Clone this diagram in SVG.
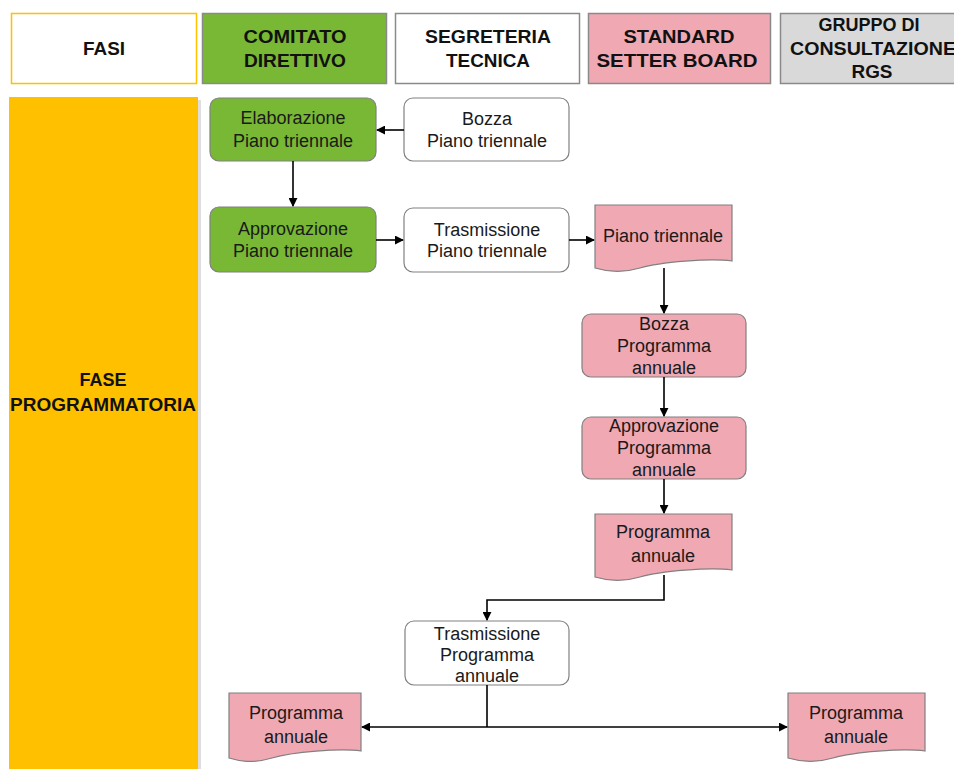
<svg xmlns="http://www.w3.org/2000/svg" width="954" height="769" viewBox="0 0 954 769">
<defs>
<style>
.hd{font-family:"Liberation Sans",Arial,sans-serif;font-weight:bold;font-size:18px;fill:#111;text-anchor:middle}
.tx{font-family:"Liberation Sans",Arial,sans-serif;font-size:18px;fill:#1a1a1a;text-anchor:middle}
.nd{stroke:#808080;stroke-width:1.2}
.g{fill:#78B834}
.w{fill:#fff}
.p{fill:#F0A8B3}
.ln{fill:none;stroke:#000;stroke-width:1.6}
</style>
<marker id="ah" viewBox="0 0 10 10" refX="9" refY="5" markerWidth="9" markerHeight="9" markerUnits="userSpaceOnUse" orient="auto">
<path d="M0,0 L10,5 L0,10 Z" fill="#000"/>
</marker>
</defs>
<rect width="954" height="769" fill="#fff"/>

<g id="header-fasi">
<rect x="11.5" y="13.5" width="185" height="70" fill="#fff" stroke="#FFC000" stroke-width="1.5"/>
<text class="hd" x="104" y="55" textLength="42" lengthAdjust="spacingAndGlyphs">FASI</text>
</g>
<g id="header-comitato">
<rect x="202.5" y="13.5" width="184" height="70" fill="#78B834" stroke="#8a8a8a" stroke-width="1.5"/>
<text class="hd" x="295" y="43" textLength="103" lengthAdjust="spacingAndGlyphs">COMITATO</text>
<text class="hd" x="295" y="67" textLength="102" lengthAdjust="spacingAndGlyphs">DIRETTIVO</text>
</g>
<g id="header-segreteria">
<rect x="395.5" y="13.5" width="184" height="70" fill="#fff" stroke="#8a8a8a" stroke-width="1.5"/>
<text class="hd" x="488" y="43" textLength="126" lengthAdjust="spacingAndGlyphs">SEGRETERIA</text>
<text class="hd" x="488" y="67" textLength="84" lengthAdjust="spacingAndGlyphs">TECNICA</text>
</g>
<g id="header-ssb">
<rect x="588.5" y="13.5" width="182" height="70" fill="#F0A8B3" stroke="#8a8a8a" stroke-width="1.5"/>
<text class="hd" x="679" y="43" textLength="111" lengthAdjust="spacingAndGlyphs">STANDARD</text>
<text class="hd" x="677" y="67" textLength="161" lengthAdjust="spacingAndGlyphs">SETTER BOARD</text>
</g>
<g id="header-rgs">
<rect x="780.5" y="13.5" width="185" height="70" fill="#D9D9D9" stroke="#8a8a8a" stroke-width="1.5"/>
<text class="hd" x="869" y="31" textLength="101" lengthAdjust="spacingAndGlyphs">GRUPPO DI</text>
<text class="hd" x="873" y="55" textLength="166" lengthAdjust="spacingAndGlyphs">CONSULTAZIONE</text>
<text class="hd" x="872" y="78" textLength="41" lengthAdjust="spacingAndGlyphs">RGS</text>
</g>

<g id="fase-programmatoria">
<rect x="12" y="100" width="189" height="669" fill="#c8c8c8" opacity="0.6"/>
<rect x="9" y="97" width="189" height="672" fill="#FFC000"/>
<text class="hd" x="103" y="386" textLength="47" lengthAdjust="spacingAndGlyphs">FASE</text>
<text class="hd" x="103" y="411" textLength="186" lengthAdjust="spacingAndGlyphs">PROGRAMMATORIA</text>
</g>

<g id="elaborazione-piano">
<rect class="nd g" x="210" y="98" width="166" height="63" rx="9"/>
<text class="tx" x="293" y="124">Elaborazione</text>
<text class="tx" x="293" y="147">Piano triennale</text>
</g>
<g id="bozza-piano">
<rect class="nd w" x="404" y="98" width="165" height="63" rx="9"/>
<text class="tx" x="487" y="125">Bozza</text>
<text class="tx" x="487" y="147">Piano triennale</text>
</g>
<g id="approvazione-piano">
<rect class="nd g" x="210" y="207" width="166" height="65" rx="9"/>
<text class="tx" x="293" y="235">Approvazione</text>
<text class="tx" x="293" y="257">Piano triennale</text>
</g>
<g id="trasmissione-piano">
<rect class="nd w" x="404" y="208" width="165" height="64" rx="9"/>
<text class="tx" x="487" y="236">Trasmissione</text>
<text class="tx" x="487" y="257">Piano triennale</text>
</g>
<g id="doc-piano-triennale">
<path class="nd p" d="M595,205 H732 V261 C710,258 660,262 640,268 C620,274 605,271 595,268 Z"/>
<text class="tx" x="663" y="242">Piano triennale</text>
</g>
<g id="bozza-programma">
<rect class="nd p" x="582" y="314" width="164" height="63" rx="9"/>
<text class="tx" x="664" y="330">Bozza</text>
<text class="tx" x="664" y="352">Programma</text>
<text class="tx" x="664" y="374">annuale</text>
</g>
<g id="approvazione-programma">
<rect class="nd p" x="582" y="417" width="164" height="62" rx="9"/>
<text class="tx" x="664" y="432">Approvazione</text>
<text class="tx" x="664" y="454">Programma</text>
<text class="tx" x="664" y="476">annuale</text>
</g>
<g id="doc-programma-annuale">
<path class="nd p" d="M595,514 H732 V570 C710,567 660,571 640,577 C620,583 605,580 595,577 Z"/>
<text class="tx" x="663" y="538">Programma</text>
<text class="tx" x="663" y="562">annuale</text>
</g>
<g id="trasmissione-programma">
<rect class="nd w" x="405" y="621" width="164" height="64" rx="9"/>
<text class="tx" x="487" y="640">Trasmissione</text>
<text class="tx" x="487" y="661">Programma</text>
<text class="tx" x="487" y="682">annuale</text>
</g>
<g id="doc-programma-sx">
<path class="nd p" d="M229,693 H361 V751 C340,748 292,752 272,758 C252,764 239,761 229,758 Z"/>
<text class="tx" x="296" y="719">Programma</text>
<text class="tx" x="296" y="743">annuale</text>
</g>
<g id="doc-programma-dx">
<path class="nd p" d="M788,693 H925 V751 C903,748 853,752 833,758 C813,764 798,761 788,758 Z"/>
<text class="tx" x="856" y="719">Programma</text>
<text class="tx" x="856" y="743">annuale</text>
</g>

<g id="connectors">
<line class="ln" x1="404" y1="130" x2="377" y2="130" marker-end="url(#ah)"/>
<line class="ln" x1="293" y1="161" x2="293" y2="206" marker-end="url(#ah)"/>
<line class="ln" x1="376" y1="240" x2="403" y2="240" marker-end="url(#ah)"/>
<line class="ln" x1="569" y1="240" x2="594" y2="240" marker-end="url(#ah)"/>
<line class="ln" x1="664" y1="268" x2="664" y2="313" marker-end="url(#ah)"/>
<line class="ln" x1="664" y1="377" x2="664" y2="416" marker-end="url(#ah)"/>
<line class="ln" x1="664" y1="479" x2="664" y2="513" marker-end="url(#ah)"/>
<polyline class="ln" points="664,575 664,600 487,600 487,620" marker-end="url(#ah)"/>
<line class="ln" x1="487" y1="685" x2="487" y2="727"/>
<line class="ln" x1="487" y1="727" x2="362" y2="727" marker-end="url(#ah)"/>
<line class="ln" x1="487" y1="727" x2="787" y2="727" marker-end="url(#ah)"/>
</g>
</svg>
